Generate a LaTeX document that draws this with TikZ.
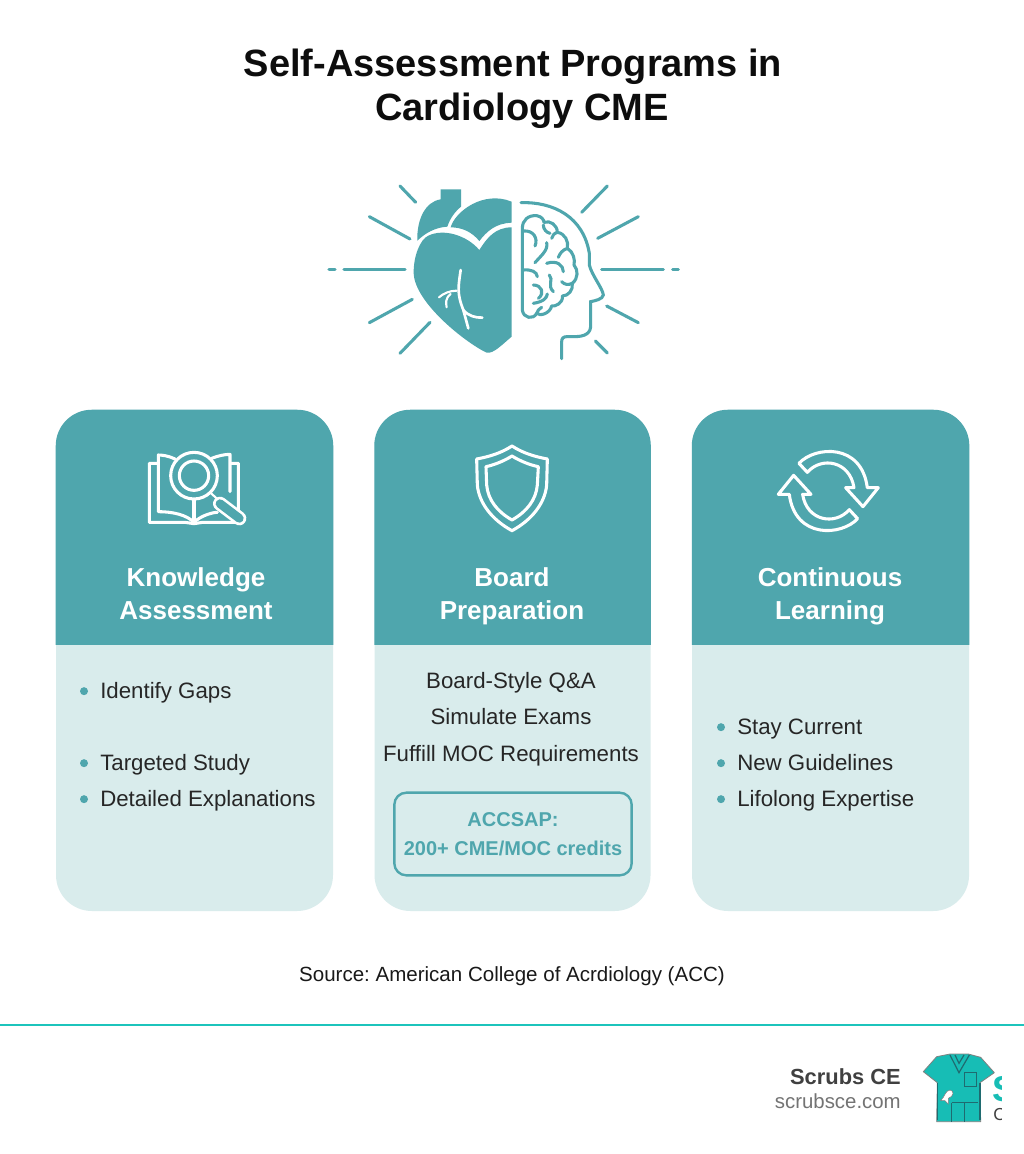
\documentclass[tikz,border=0pt]{standalone}
\usepackage{fontspec}
\setmainfont{Liberation Sans}
\usetikzlibrary{positioning}
\definecolor{tealhead}{HTML}{4FA6AD}
\definecolor{tealpale}{HTML}{D9ECEC}
\definecolor{tealline}{HTML}{1CC4BC}
\definecolor{scrubfill}{HTML}{17BDB5}
\definecolor{scrubedge}{HTML}{1F6B70}
\tikzset{
  cardbody/.style = {
    shape = rectangle,
    fill = tealpale,
    rounded corners = 27pt,
    minimum width = 207.75pt,
    minimum height = 375.75pt,
    inner sep = 0pt,
  },
  titlelabel/.style = {
    text = black!95,
    font = \fontsize{28.5}{33}\selectfont\bfseries,
    inner sep = 0pt,
    text height = 21pt,
    text depth = 6pt,
  },
  headlabel/.style = {
    text = white,
    font = \fontsize{19.5}{25}\selectfont\bfseries,
    align = center,
    text depth = 5pt,
  },
  itemlabel/.style = {
    text = black!85,
    font = \fontsize{16.7}{21}\selectfont,
    anchor = west,
    inner sep = 0pt,
    text height = 12.5pt,
    text depth = 3.5pt,
  },
  midlabel/.style = {
    text = black!85,
    font = \fontsize{16.7}{21}\selectfont,
    inner sep = 0pt,
    text height = 12.5pt,
    text depth = 3.5pt,
  },
  iconline/.style = {
    draw = white,
    line width = 2.3pt,
    line join = round,
    line cap = round,
  },
  rayline/.style = {
    draw = tealhead,
    line width = 2.3pt,
    line cap = round,
  },
  scrubline/.style = {
    draw = scrubedge,
    line width = 0.9pt,
  },
}

\begin{document}
\frenchspacing
\begin{tikzpicture}[x = 0.75pt, y = -0.75pt]
  \useasboundingbox (0,0) rectangle (1024,1154);
  \fill[white] (0,0) rectangle (1024,1154);

  % title
  \node[titlelabel](title1) at (513,66){Self-Assessment Programs in};
  \node[titlelabel](title2) at (522,110){Cardiology CME};

  % cards
  \node[cardbody](card1) at (194.5,660.5){};
  \node[cardbody, minimum width = 207pt, right=30.75pt of card1](card2){};
  \node[cardbody, right=30.75pt of card2](card3){};
  \foreach \c in {card1, card2, card3}{
    \begin{scope}
      \clip (\c.north west) rectangle ([yshift=-176.25pt]\c.north east);
      \fill[tealhead, rounded corners = 27pt] (\c.north west) rectangle (\c.south east);
    \end{scope}
  }

  \node[headlabel](head1) at (196,597){Knowledge\\Assessment};
  \node[headlabel](head2) at (512,597){Board\\Preparation};
  \node[headlabel](head3) at (830,597){Continuous\\Learning};

  % first card
  \node[itemlabel](gaps) at (100,692.5){Identify Gaps};
  \node[itemlabel, below=54pt of gaps.west, anchor=west](study){Targeted Study};
  \node[itemlabel, below=27pt of study.west, anchor=west](expl){Detailed Explanations};

  % second card
  \node[midlabel](qa) at (511,682){Board-Style Q\&A};
  \node[midlabel, below=11pt of qa](exams){Simulate Exams};
  \node[midlabel, below=11pt of exams](moc){Fuffill MOC Requirements};
  \node[draw = tealhead, line width = 1.8pt, rounded corners = 9pt, minimum width = 178pt, minimum height = 62pt, align = center, text = tealhead, font = \fontsize{15}{21.5}\selectfont\bfseries](accsap) at (513,834){ACCSAP:\\200+ CME/MOC credits};

  % third card
  \node[itemlabel](current) at (737,728.5){Stay Current};
  \node[itemlabel, below=27pt of current.west, anchor=west](guide){New Guidelines};
  \node[itemlabel, below=27pt of guide.west, anchor=west](life){Lifolong Expertise};

  \foreach \i in {gaps, study, expl, current, guide, life}
    \fill[tealhead] ([xshift=-12pt,yshift=1pt]\i.west) circle (3pt);

  % footer
  \node[font = \fontsize{15.4}{19}\selectfont, text = black!90](source) at (512,976){Source: American College of Acrdiology (ACC)};
  \draw[tealline, line width = 2.2pt] (0,1025) -- (1024,1025);
  \node[font = \fontsize{16.4}{22}\selectfont\bfseries, text = black!75, anchor = east, inner sep = 0pt](brand) at (901,1077){Scrubs CE};
  \node[font = \fontsize{15.3}{18}\selectfont, text = black!55, inner sep = 0pt, below=6pt of brand.south east, anchor = north east](site){scrubsce.com};

  % heart and head, coordinates of a 3x crop
  \begin{scope}[shift = {(320,170)}, x = 0.25pt, y = -0.25pt]
    \foreach \ax/\ay/\bx/\by in {240/48/287/97, 148/140/270/207, 27/298/45/298, 72/298/255/298, 148/458/277/388, 240/550/330/457, 862/48/785/127, 955/140/833/205, 845/298/1030/298, 1058/298/1075/298, 860/408/955/458, 826/513/862/549}
      \draw[rayline] (\ax,\ay) -- (\bx,\by);
    \fill[tealhead] (575,172) .. controls (525,172) and (500,205) .. (478,240) .. controls (440,195) and (370,175) .. (325,197) .. controls (300,208) and (280,260) .. (281,310) .. controls (285,400) and (440,520) .. (500,548) .. controls (520,552) and (545,525) .. (575,500) -- cycle;
    \fill[tealhead] (392,172) .. controls (405,125) and (490,60) .. (575,95) -- (575,158) .. controls (525,160) and (500,185) .. (478,213) .. controls (455,185) and (425,172) .. (392,172) -- cycle;
    \fill[tealhead] (292,212) .. controls (290,150) and (315,95) .. (362,88) -- (362,58) -- (423,58) -- (423,110) .. controls (405,125) and (390,145) .. (382,170) .. controls (345,172) and (315,190) .. (292,212) -- cycle;
    \draw[iconline, line width = 2pt] (422,300) .. controls (415,350) and (410,370) .. (430,420) -- (445,475);
    \draw[iconline, line width = 2pt] (430,420) .. controls (445,438) and (465,443) .. (487,443);
    \draw[iconline, line width = 1.6pt] (410,362) .. controls (390,362) and (370,370) .. (357,382);
    \draw[iconline, line width = 1.6pt] (392,372) .. controls (375,385) and (378,400) .. (380,412);
    \draw[rayline] (603,98) .. controls (700,95) and (790,140) .. (808,250) -- (808,285) .. controls (815,315) and (848,355) .. (850,375) .. controls (848,388) and (825,392) .. (812,395) -- (812,470) .. controls (810,498) and (780,500) .. (760,500) -- (740,500) .. controls (730,500) and (725,505) .. (725,515) -- (725,566);
    \draw[rayline, line join = round] (607,175) .. controls (607,150) and (625,135) .. (650,137) .. controls (665,139) and (672,150) .. (672,157) .. controls (690,150) and (712,165) .. (712,187) .. controls (735,190) and (747,215) .. (742,235) .. controls (760,245) and (766,270) .. (762,285) .. controls (775,300) and (775,325) .. (757,340) .. controls (760,360) and (745,378) .. (727,378) .. controls (730,400) and (705,410) .. (695,408) .. controls (690,430) and (660,440) .. (650,430) .. controls (640,450) and (610,445) .. (607,420) -- cycle;
    \foreach \ax/\ay/\bx/\by/\cx/\cy/\dx/\dy in {610/183/640/180/655/205/645/228, 670/165/670/178/680/188/690/190, 712/187/702/190/697/197/695/205, 680/218/685/240/665/255/645/278, 742/235/727/240/720/250/715/262, 680/280/710/270/730/285/730/305, 610/300/635/298/650/305/652/320, 688/315/702/330/680/345/700/365, 640/345/665/345/675/370/655/385, 640/400/670/395/680/385/682/372, 757/340/745/345/735/345/725/335, 650/430/652/422/658/416/665/412}
      \draw[rayline] (\ax,\ay) .. controls (\bx,\by) and (\cx,\cy) .. (\dx,\dy);
  \end{scope}

  % book and lens
  \begin{scope}[shift = {(130,435)}, x = 0.25pt, y = -0.25pt]
    \draw[iconline] (80,85) -- (58,85) -- (58,262) -- (165,262) -- (192,266) -- (218,262) -- (325,262) -- (325,85) -- (302,85);
    \draw[iconline] (135,72) .. controls (115,62) and (95,60) .. (85,60) -- (85,230) .. controls (130,230) and (170,240) .. (192,262) .. controls (215,240) and (250,232) .. (262,232);
    \draw[iconline] (245,70) .. controls (265,62) and (285,58) .. (300,58) -- (300,170);
    \draw[iconline] (192,195) -- (192,262);
    \fill[tealhead] (192,122) circle (17.5pt);
    \draw[iconline] (192,122) circle (17.5pt);
    \draw[iconline] (192,122) circle (11pt);
    \draw[line width = 10.5pt, white, line cap = round] (270,206) -- (328,250);
    \draw[line width = 6.5pt, tealhead, line cap = round] (270,206) -- (328,250);
    \draw[iconline, line width = 1.6pt] (240,172) -- (262,192);
  \end{scope}

  % shield
  \begin{scope}[shift = {(460,435)}, x = 0.25pt, y = -0.25pt]
    \draw[iconline] (156,33) .. controls (190,55) and (225,65) .. (262,72) -- (260,150) .. controls (255,205) and (215,255) .. (156,287) .. controls (97,255) and (57,205) .. (52,150) -- (50,72) .. controls (87,65) and (122,55) .. (156,33) -- cycle;
    \draw[iconline] (156,63) .. controls (180,78) and (210,90) .. (235,95) -- (232,150) .. controls (228,195) and (200,230) .. (156,255) .. controls (112,230) and (84,195) .. (80,150) -- (78,95) .. controls (102,90) and (132,78) .. (156,63) -- cycle;
  \end{scope}

  % two arrows, second is first turned
  \foreach \a in {0, 180}{
    \begin{scope}[shift = {(828.3,491)}, rotate = \a, x = 0.25pt, y = -0.25pt]
      \draw[iconline] (-88,-83) .. controls (-40,-135) and (100,-145) .. (117,-10) -- (150,-10) -- (104,47) -- (52,-10) -- (77,-10) .. controls (65,-90) and (-20,-105) .. (-63,-56) -- cycle;
    \end{scope}
  }

  % scrub top
  \begin{scope}[shift = {(760,1030)}, x = 0.25pt, y = -0.25pt]
    \fill[scrubfill, draw = gray, line width = 0.6pt, line join = round] (570,72) -- (625,72) -- (662,82) -- (703,128) -- (660,158) -- (662,275) -- (530,275) -- (532,158) -- (490,125) -- (530,80) -- cycle;
    \draw[scrubline] (570,75) -- (597,128) -- (628,75) (585,75) -- (597,100) -- (612,75);
    \draw[scrubline] (613,128) rectangle (650,170);
    \draw[scrubline] (575,218) -- (655,218) (575,218) -- (575,275) (613,218) -- (613,275) (532,158) -- (532,270) (660,158) -- (660,270);
    \fill[white, draw = gray, line width = 0.4pt] (542,212) .. controls (555,200) and (555,182) .. (570,180) .. controls (585,182) and (580,200) .. (565,205) -- (565,222) -- (555,212) -- cycle;
  \end{scope}
  \begin{scope}
    \clip (985,1060) rectangle (1001.6,1130);
    \node[font = \fontsize{27}{30}\selectfont\bfseries, text = scrubfill, anchor = west, inner sep = 0pt](letterS) at (992,1089){S};
    \node[font = \fontsize{13}{14}\selectfont, text = black!75, anchor = west, inner sep = 0pt](letterC) at (993,1115){C};
  \end{scope}
\end{tikzpicture}
\end{document}
